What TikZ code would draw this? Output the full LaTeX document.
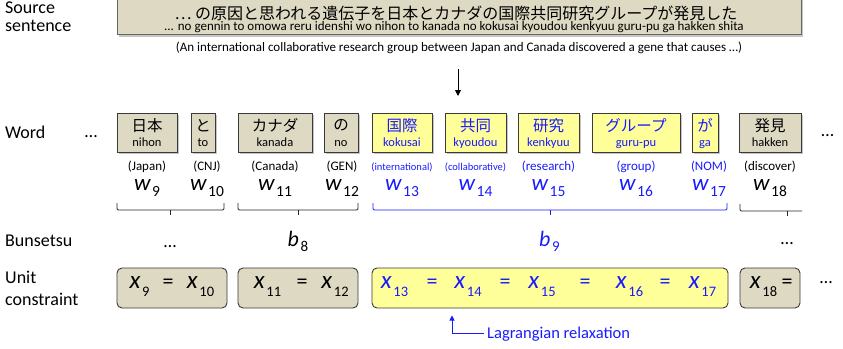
\documentclass[tikz,border=0pt]{standalone}
\usepackage{fontspec}
\setmainfont{Carlito}
\newfontfamily\jpfont{Noto Sans CJK JP}
\usetikzlibrary{shadows,arrows.meta}
\definecolor{beige}{HTML}{DDD9C3}
\definecolor{paleyel}{HTML}{FFFF99}
\definecolor{myblue}{HTML}{1A1AFF}
\definecolor{edge}{HTML}{3A3A3A}
\newcommand{\fs}[1]{\fontsize{#1}{#1}\selectfont}
% size, letter, subsize, sub, drop
\newcommand{\vsub}[5]{{\fs{#1}\itshape #2}\,\raisebox{-#5pt}{\fs{#3}#4}}
\begin{document}
\begin{tikzpicture}[x=1pt,y=-1pt,
  lbl/.style={anchor=base west, inner sep=0, font=\fs{18}},
  wbox/.style={draw=edge, line width=0.9pt, minimum height=39, inner sep=0,
    drop shadow={shadow xshift=1.8pt, shadow yshift=-2.2pt, opacity=0.45}},
  tanbox/.style={wbox, fill=beige},
  yelbox/.style={wbox, fill=paleyel},
  kj/.style={inner sep=0, font=\jpfont\fs{15.5}},
  rm/.style={anchor=base, inner sep=0, font=\fs{12.5}},
  gl/.style={anchor=base, inner sep=0},
  wv/.style={anchor=base, inner sep=0},
  ubox/.style={draw=edge, line width=0.9pt, rounded corners=5pt, minimum height=40, inner sep=0},
  eqv/.style={anchor=base, inner sep=0},
  eqs/.style={anchor=base, inner sep=0, font=\fs{22}},
  dots/.style={anchor=base, inner sep=0, font=\fs{18}},
  brace/.style={draw=black!85, line width=0.8pt, rounded corners=1.2pt},
  bbrace/.style={draw=myblue, line width=0.8pt, rounded corners=1.2pt}
]
\useasboundingbox (0,0) rectangle (843,348);

% source sentence
\node[draw=black!60, line width=0.9pt, fill=beige, minimum width=684, minimum height=46, inner sep=0,
  drop shadow={shadow xshift=2pt, shadow yshift=-2.5pt, opacity=0.45}] (src) at (459,11) {};
\node[inner sep=0, font=\jpfont\fs{16}] (srcjp) at (456,13) {… の原因と思われる遺伝子を日本とカナダの国際共同研究グループが発見した};
\node[anchor=base, inner sep=0, font=\fs{13}] (srcrm) at (454,30) {... no gennin to omowa reru idenshi wo nihon to kanada no kokusai kyoudou kenkyuu guru-pu ga hakken shita};
\node[anchor=base, inner sep=0, font=\fs{13}] (trans) at (459,51) {(An international collaborative research group between Japan and Canada discovered a gene that causes …)};

\coordinate (a1) at (458,69);
\coordinate (a2) at (458,96);
\draw[line width=0.9pt, -{Triangle[length=6pt,width=6pt]}] (a1) -- (a2);

% row labels
\node[lbl] (lsrc1) at (5,13) {Source};
\node[lbl] (lsrc2) at (5,31.5) {sentence};
\node[lbl] (lword) at (5,138) {Word};
\node[lbl] (lbun) at (5,246) {Bunsetsu};
\node[lbl] (lunit1) at (5,283) {Unit};
\node[lbl] (lunit2) at (5,305) {constraint};

% words
\node[dots] (wdl) at (91,137) {…};
\node[dots] (wdr) at (827.5,136) {…};
\foreach \id/\c/\gx/\w/\st/\k/\r/\g/\col/\gf in {
 9/147/147/60/tanbox/日本/nihon/(Japan)/black/13,
 10/203/207/24/tanbox/と/to/(CNJ)/black/13,
 11/275/275/74/tanbox/カナダ/kanada/(Canada)/black/13,
 12/341/342/34/tanbox/の/no/(GEN)/black/13,
 13/402/402/60/yelbox/国際/kokusai/(international)/myblue/10.5,
 14/475.5/475.5/61/yelbox/共同/kyoudou/(collaborative)/myblue/10.5,
 15/548.5/548.5/61/yelbox/研究/kenkyuu/(research)/myblue/13,
 16/636/636/88/yelbox/グループ/guru-pu/(group)/myblue/13,
 17/705/709/26/yelbox/が/ga/(NOM)/myblue/13,
 18/770/770/62/tanbox/発見/hakken/(discover)/black/13}
{
 \node[\st, minimum width=\w] (wb\id) at (\c,132.5) {};
 \node[kj, text=\col] (kj\id) at (\c,125.5) {\k};
 \node[rm, text=\col] (rm\id) at (\c,146) {\r};
 \node[gl, text=\col, font=\fs{\gf}] (gl\id) at (\gx,170) {\g};
 \node[wv, text=\col] (wv\id) at (\gx,190) {\vsub{23}{w}{15.5}{\id}{6}};
}

% braces
\draw[brace] (117,203) -- (117,210) -- (224,210) -- (224,203);
\draw[brace] (170,210) -- (170,215);
\draw[brace] (238,203) -- (238,210) -- (358,210) -- (358,203);
\draw[brace] (298,210) -- (298,215);
\draw[bbrace] (373,203) -- (373,210) -- (727,210) -- (727,203);
\draw[bbrace] (550,210) -- (550,215);
\draw[brace] (740,204) -- (740,211) -- (802,211);
\draw[brace] (787,211) -- (787,216);

% bunsetsu
\node[dots] (bdl) at (170,247) {…};
\node[wv] (b8) at (298,246) {\vsub{22}{b}{15}{8}{5}};
\node[wv, text=myblue] (b9) at (549.5,246) {\vsub{22}{b}{15}{9}{5}};
\node[dots] (bdr) at (787,244) {…};

% unit constraints
\node[ubox, fill=beige, minimum width=110] (u1) at (172,288) {};
\node[ubox, fill=beige, minimum width=120] (u2) at (298,288) {};
\node[ubox, fill=paleyel, minimum width=356] (u3) at (550,288) {};
\node[ubox, fill=beige, minimum width=60] (u4) at (770,288) {};
\node[eqv] (x9) at (139.5,288) {\vsub{25}{x}{14.5}{9}{8}};
\node[eqs] (e1) at (168,288) {=};
\node[eqv] (x10) at (200.5,288) {\vsub{25}{x}{14.5}{10}{8}};
\node[eqv] (x11) at (267.5,288) {\vsub{25}{x}{14.5}{11}{8}};
\node[eqs] (e2) at (302,288) {=};
\node[eqv] (x12) at (335,288) {\vsub{25}{x}{14.5}{12}{8}};
\begin{scope}[text=myblue]
\node[eqv] (x13) at (394.5,288) {\vsub{25}{x}{14.5}{13}{8}};
\node[eqs] (e3) at (432,288) {=};
\node[eqv] (x14) at (468,288) {\vsub{25}{x}{14.5}{14}{8}};
\node[eqs] (e4) at (505,288) {=};
\node[eqv] (x15) at (542,288) {\vsub{25}{x}{14.5}{15}{8}};
\node[eqs] (e5) at (585,288) {=};
\node[eqv] (x16) at (629.5,288) {\vsub{25}{x}{14.5}{16}{8}};
\node[eqs] (e6) at (665,288) {=};
\node[eqv] (x17) at (702.5,288) {\vsub{25}{x}{14.5}{17}{8}};
\end{scope}
\node[eqv] (x18) at (763.5,288) {\vsub{25}{x}{14.5}{18}{8}};
\node[eqs] (e7) at (787,288) {=};
\node[dots] (udr) at (826,283) {…};

% Lagrangian relaxation
\node[anchor=base west, inner sep=0, font=\fs{16.5}, text=myblue] (lag) at (487,338) {Lagrangian relaxation};
\coordinate (lagc) at (452,333);
\coordinate (lagt) at (452,315.5);
\draw[myblue, line width=0.9pt, -{Triangle[length=5pt,width=5pt]}] ([xshift=-3pt]lag.west |- lagc) -- (lagc) -- (lagt);
\end{tikzpicture}
\end{document}
